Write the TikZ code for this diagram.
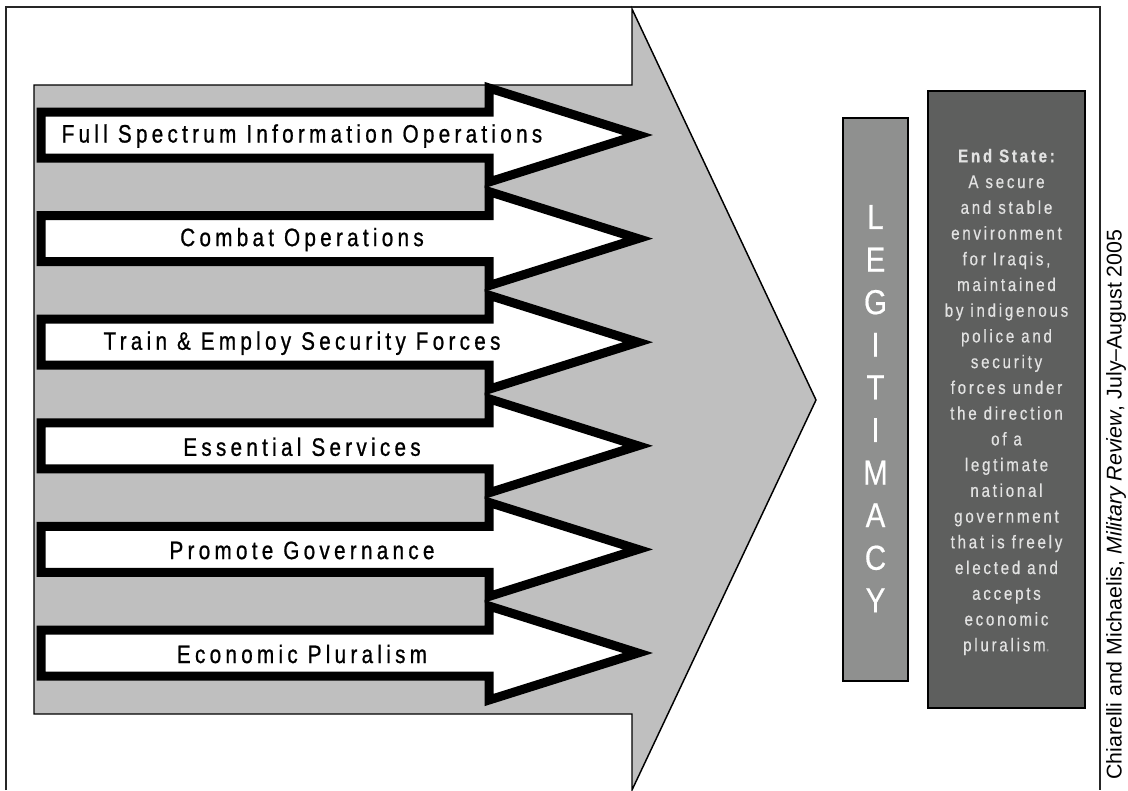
\documentclass[tikz,border=0pt]{standalone}
\usepackage{fontspec}
\setmainfont{Liberation Sans}
\newfontfamily\lanefont{Liberation Sans}[FakeStretch=0.82,LetterSpace=17,FakeBold=0.8]
\newfontfamily\statefont{Liberation Sans}[FakeStretch=0.82,LetterSpace=15,FakeBold=0.5]
\newfontfamily\tallfont{Liberation Sans}[FakeStretch=0.85,FakeBold=0.5]
\usetikzlibrary{calc}

\definecolor{biggray}{RGB}{191,191,191}
\definecolor{legitgray}{RGB}{143,144,143}
\definecolor{endgray}{RGB}{94,95,94}
\definecolor{endtext}{RGB}{226,226,226}

\tikzset{
  frameline/.style={line width=1.5pt, draw=black!85},
  bigarrow/.style={fill=biggray, draw=black, line width=1.1pt},
  lanearrow/.style={fill=white, draw=black, line width=6.75pt, line join=miter},
  lanelabel/.style={inner sep=0, font=\lanefont\fontsize{18.9}{20}\selectfont},
  pillar/.style={draw=black, line width=1.4pt, inner sep=0}
}

\begin{document}
\begin{tikzpicture}[x=0.75pt,y=-0.75pt]
      \useasboundingbox (0,0) rectangle (1128,790);
      \draw[frameline] (6,790) -- (6,7) -- (1100,7) -- (1100,790);

      \draw[bigarrow] (34,85) -- (632,85) -- (632,9) -- (816,400) -- (632,790) -- (632,714) -- (34,714) -- cycle;

      \foreach \lbl [count=\i from 0] in {Full Spectrum Information Operations, Combat Operations, Train \& Employ Security Forces, Essential Services, Promote Governance, Economic Pluralism}{
        \pgfmathsetmacro{\cy}{135+103.6*\i}
        \draw[lanearrow] (41,\cy-23) -- (489,\cy-23) -- (489,\cy-47) -- (638,\cy) -- (489,\cy+47) -- (489,\cy+23) -- (41,\cy+23) -- cycle;
        \node[lanelabel] (lane\i) at (302,\cy+1) {\lbl};
      }

      \node[pillar, fill=legitgray, minimum width=48.75pt, minimum height=422.25pt] (legit) at (875.5,399.5) {};
      \foreach \ch [count=\j from 0] in {L,E,G,I,T,I,M,A,C,Y}
        \node[inner sep=0, text=white, font=\tallfont\fontsize{26}{28}\selectfont] (letter\j) at (875.5,217+42.6*\j) {\ch};

      \node[pillar, fill=endgray, minimum width=117.75pt, minimum height=462.75pt] (endstate) at (1006.5,399.5) {};
      \node[inner sep=0, align=center, text=endtext, font=\statefont\fontsize{13.8}{19.3}\selectfont] (endtext) at (1006.5,402)
        {{\bfseries End State:}\\A secure\\and stable\\environment\\for Iraqis,\\maintained\\by indigenous\\police and\\security\\forces under\\the direction\\of a\\legtimate\\national\\government\\that is freely\\elected and\\accepts\\economic\\pluralism{\color{black!45}.}};

      \node[rotate=90, anchor=west, inner sep=0, font=\fontsize{16}{18}\selectfont] (cite) at (1116,780)
        {Chiarelli and Michaelis, \textit{Military Review}, July–August 2005};
\end{tikzpicture}
\end{document}
